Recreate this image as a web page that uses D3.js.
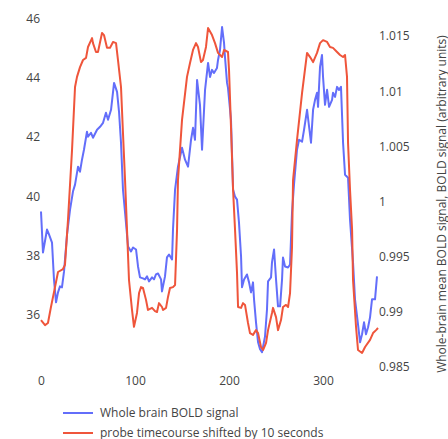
<!DOCTYPE html>
<html>
<head>
<meta charset="utf-8">
<script src="https://cdn.jsdelivr.net/npm/d3@7"></script>
<style>
  body { margin: 0; background: #fff; }
  text { font-family: "Open Sans", verdana, arial, sans-serif; fill: #444; }
</style>
</head>
<body>
<script>
// probe timecourse shifted by 10 s (left axis)
var probeTime = [0, 4.3, 7.4, 10.6, 14.9, 18.1, 23.4, 25.5, 28.7, 33, 36.2, 38.3, 41.5, 44.7, 47.9, 50,
  54.3, 55.3, 58.5, 60.6, 64.9, 67, 70.2, 73.4, 76.6, 79.8, 81.9, 85.1, 87.2, 89.4, 91.5, 93.6, 96.8,
  98.9, 102.1, 104.3, 106.4, 108.5, 111.7, 113.8, 118.1, 121.3, 123.4, 125.5, 128.7, 129.8, 133,
  135.1, 137.2, 140.4, 142.6, 144.7, 145.7, 150, 155.3, 158.5, 161.7, 164.9, 167, 170.2, 172.3,
  175.5, 177.7, 181.9, 185.1, 188.3, 192.6, 194.7, 198.9, 200, 202.1, 204.3, 206.4, 208.5, 209.6,
  212.8, 214.9, 217, 220.2, 222.3, 225.5, 228.7, 230.9, 234, 236.2, 239.4, 241.5, 245.7, 246.8,
  250, 252.1, 255.3, 257.4, 260.6, 262.8, 264.9, 267, 268.1, 272.3, 277.7, 283, 286.2, 289.4,
  293.6, 296.8, 300, 304.3, 307.4, 310.6, 314.9, 318.1, 321.3, 323.4, 325.5, 326.6, 328.7, 330.9,
  331.9, 335.1, 337.2, 341.5, 344.7, 350, 353.2, 356.4, 358.5];
var probeValue = [35.83, 35.66, 35.73, 36.27, 36.94, 37.45, 37.55, 37.69, 39.2, 41.56, 43.69, 44.03,
  44.36, 44.6, 44.67, 45.04, 45.34, 45.17, 44.87, 44.87, 45.51, 45.44, 45.01, 45.01, 45.21, 45.17,
  44.6, 43.69, 42.14, 40.55, 38.87, 37.18, 36.17, 35.6, 36.07, 36.74, 36.94, 36.91, 36.51, 36.17,
  36.24, 36.13, 36.1, 36.4, 36.27, 36.17, 36.24, 36.61, 36.91, 36.94, 37.01, 38.87, 40.55, 42.58,
  44.03, 44.5, 44.94, 45.17, 45.04, 44.53, 44.6, 45.04, 45.68, 45.44, 45.17, 44.84, 44.7, 44.94,
  44.87, 44.26, 42.34, 40.22, 38.87, 37.42, 36.27, 36.24, 36.4, 36.34, 35.73, 35.39, 35.33, 35.49,
  35.39, 34.92, 34.82, 35.06, 35.49, 36.07, 36.24, 35.93, 35.49, 35.83, 36.27, 36.34, 36.27, 36.74,
  38.29, 40.55, 41.9, 43.49, 44.84, 44.7, 44.53, 44.84, 45.17, 45.27, 45.21, 45.04, 45.01, 44.87,
  44.77, 44.7, 44.77, 44.03, 41.8, 40.22, 38.87, 37.18, 35.6, 34.82, 34.72, 34.92, 35.16, 35.39,
  35.49, 35.56];

// whole brain BOLD signal (right axis)
var boldTime = [0, 2.1, 6.4, 8.5, 11.7, 13.8, 16, 18.1, 20.2, 22.3, 24.5, 27.7, 30.9, 34, 36.2, 39.4,
  41.5, 43.6, 45.7, 48.9, 50, 53.2, 55.3, 59.6, 62.8, 66, 69.1, 71.3, 74.5, 77.7, 80.9, 83, 85.1,
  87.2, 89.4, 92.6, 95.7, 97.9, 101.1, 103.2, 105.3, 108.5, 110.6, 112.8, 114.9, 118.1, 120.2,
  122.3, 124.5, 127.7, 128.7, 131.9, 134, 136.2, 139.4, 140.4, 142.6, 145.7, 150, 153.2, 156.4,
  159.6, 161.7, 163.8, 166, 169.1, 171.3, 174.5, 177.7, 179.8, 181.9, 184, 187.2, 188.3, 190.4,
  192.6, 194.7, 195.7, 197.9, 198.9, 202.1, 204.3, 206.4, 208.5, 210.6, 212.8, 213.8, 216, 219.1,
  221.3, 223.4, 225.5, 226.6, 228.7, 230.9, 233, 235.1, 238.3, 240.4, 241.5, 244.7, 245.7, 247.9,
  250, 252.1, 254.3, 256.4, 257.4, 259.6, 262.8, 264.9, 267, 269.1, 272.3, 274.5, 277.7, 279.8,
  283, 284, 287.2, 289.4, 291.5, 293.6, 294.7, 296.8, 298.9, 300, 302.1, 304.3, 306.4, 309.6,
  310.6, 312.8, 314.9, 317, 319.1, 320.2, 321.3, 323.4, 326.6, 328.7, 331.9, 334, 337.2, 339.4,
  341.5, 343.6, 345.7, 347.9, 350, 352.1, 355.3, 357.4];
var boldValue = [0.99909, 0.99538, 0.99746, 0.99701, 0.99628, 0.99294, 0.99086, 0.99176, 0.99231,
  0.99222, 0.99366, 0.99701, 0.99927, 1.0009, 1.00153, 1.00316, 1.0027, 1.00379, 1.00469, 1.00632,
  1.00587, 1.00623, 1.00578, 1.0065, 1.00677, 1.00713, 1.00804, 1.00741, 1.00831, 1.01075, 1.00994,
  1.00813, 1.00533, 1.00108, 0.999, 0.99592, 0.99547, 0.99583, 0.99565, 0.99411, 0.99312, 0.99303,
  0.99294, 0.99321, 0.99276, 0.99312, 0.99294, 0.99339, 0.99348, 0.99294, 0.99185, 0.99321,
  0.99493, 0.9952, 0.99475, 0.99746, 1.00108, 1.00316, 1.00487, 1.00379, 1.00316, 1.0056, 1.00668,
  1.0056, 1.01102, 1.00876, 1.00469, 1.01012, 1.01256, 1.01129, 1.01193, 1.01165, 1.01211, 1.01283,
  1.01373, 1.01581, 1.01437, 1.0131, 1.01075, 1.0103, 1.00741, 1.00108, 1.00044, 1.00017, 0.99809,
  0.99502, 0.99222, 0.99294, 0.99339, 0.99267, 0.99176, 0.99267, 0.99113, 0.98905, 0.98724,
  0.98661, 0.98634, 0.98778, 0.99023, 0.99276, 0.99312, 0.99448, 0.99565, 0.99294, 0.9905, 0.9905,
  0.99294, 0.99493, 0.99411, 0.99402, 0.99429, 0.999, 1.00153, 1.00469, 1.0056, 1.00542, 1.0065,
  1.00831, 1.00759, 1.00533, 1.00831, 1.00921, 1.00985, 1.00858, 1.0122, 1.01328, 1.01129,
  1.00876, 1.01012, 1.00858, 1.00921, 1.00985, 1.00948, 1.01039, 1.01012, 1.01039, 1.00786,
  1.00533, 1.00243, 1.00216, 0.99836, 0.99448, 0.99113, 0.98887, 0.98724, 0.98797, 0.98905,
  0.98797, 0.9886, 0.9895, 0.99113, 0.99113, 0.99321];

var xTicks = [0, 100, 200, 300];
var leftTicks = [36, 38, 40, 42, 44, 46];
var rightTicks = [0.985, 0.99, 0.995, 1, 1.005, 1.01, 1.015];
var seriesNames = ["Whole brain BOLD signal", "probe timecourse shifted by 10 seconds"];
var seriesColors = ["#636efa", "#ef553b"];
var rightTitle = "Whole-brain mean BOLD signal, BOLD signal (arbitrary units)";

var width = 448, height = 439;

var svg = d3.select("body").append("svg")
    .attr("width", width)
    .attr("height", height);

// scales (pixel ranges)
var x = d3.scaleLinear().domain([0, 357.4]).range([41, 377]);
var yL = d3.scaleLinear().domain([36, 46]).range([315, 18.5]);
var yR = d3.scaleLinear().domain([0.985, 1.015]).range([367, 36]);

var probe = probeTime.map(function(t, i) { return [t, probeValue[i]]; });
var bold = boldTime.map(function(t, i) { return [t, boldValue[i]]; });

// lines
svg.append("path")
    .datum(bold)
    .attr("fill", "none")
    .attr("stroke", seriesColors[0])
    .attr("stroke-width", 2)
    .attr("stroke-linejoin", "round")
    .attr("d", d3.line().x(function(d) { return x(d[0]); }).y(function(d) { return yR(d[1]); }));

svg.append("path")
    .datum(probe)
    .attr("fill", "none")
    .attr("stroke", seriesColors[1])
    .attr("stroke-width", 2)
    .attr("stroke-linejoin", "round")
    .attr("d", d3.line().x(function(d) { return x(d[0]); }).y(function(d) { return yL(d[1]); }));

// axes, no domain lines or tick marks
function clean(g) {
  g.select(".domain").remove();
  g.selectAll(".tick line").remove();
  g.selectAll(".tick text").attr("fill", "#444").style("font-size", "12px");
}

svg.append("g")
    .attr("transform", "translate(0,376)")
    .call(d3.axisBottom(x).tickValues(xTicks).tickSize(0).tickPadding(0))
    .call(clean)
    .selectAll(".tick text").attr("dy", "0.71em");

svg.append("g")
    .attr("transform", "translate(40,0)")
    .call(d3.axisLeft(yL).tickValues(leftTicks).tickSize(0).tickPadding(0))
    .call(clean);

svg.append("g")
    .attr("transform", "translate(379,0)")
    .call(d3.axisRight(yR).tickValues(rightTicks).tickFormat(d3.format("~g")).tickSize(0).tickPadding(0))
    .call(clean);

// right axis title
svg.append("text")
    .attr("transform", "translate(442,204) rotate(-90)")
    .attr("text-anchor", "middle")
    .attr("dy", "0.35em")
    .style("font-size", "12px")
    .text(rightTitle);

// legend
var legend = svg.append("g").attr("transform", "translate(63,413)");
seriesNames.forEach(function(name, i) {
  var row = legend.append("g").attr("transform", "translate(0," + (i * 20) + ")");
  row.append("line")
      .attr("x1", 0).attr("x2", 30)
      .attr("stroke", seriesColors[i])
      .attr("stroke-width", 2);
  row.append("text")
      .attr("x", 37)
      .attr("dy", "0.35em")
      .style("font-size", "12px")
      .text(name);
});
</script>
</body>
</html>
